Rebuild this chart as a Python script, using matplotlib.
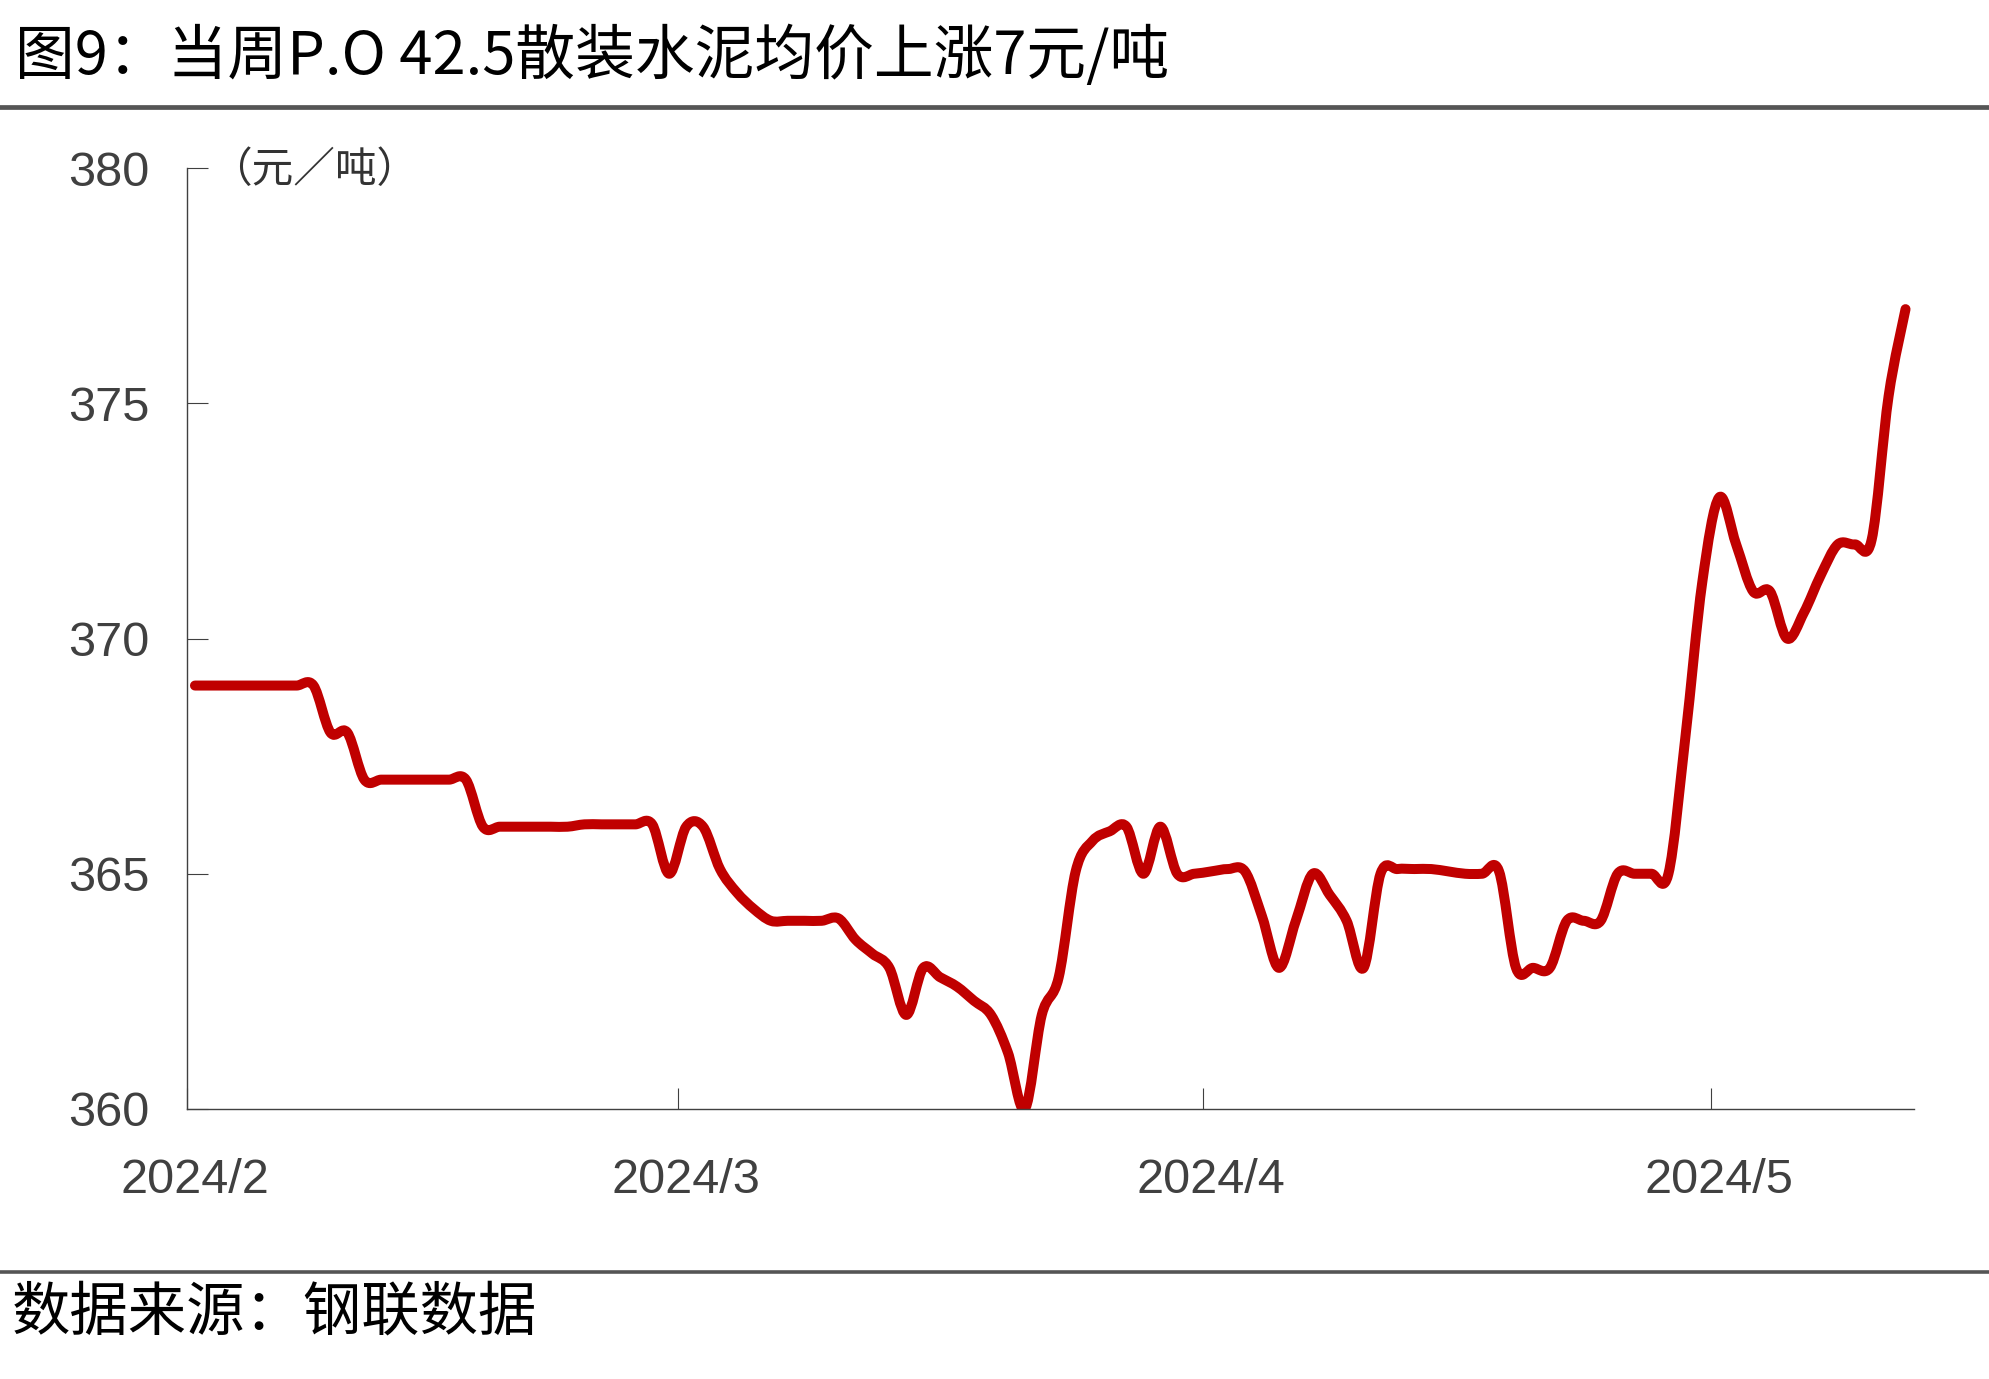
import matplotlib
matplotlib.use('Agg')
import matplotlib.pyplot as plt
import matplotlib.dates as mdates
from matplotlib.lines import Line2D
from matplotlib.path import Path
from matplotlib.patches import PathPatch
import numpy as np
import pandas as pd

# P.O 42.5 bulk cement average price (yuan/t), daily
feb = [369, 369, 369, 369, 369, 369, 369, 369, 368, 368,
       367, 367, 367, 367, 367, 367, 367, 366, 366, 366,
       366, 366, 366, 366.05, 366.05, 366.05, 366.05, 366.05, 365]
mar = [366, 366, 365.1, 364.6, 364.25, 364, 364, 364, 364, 364.05,
       363.6, 363.3, 363, 362, 363, 362.8, 362.6, 362.3, 362, 361.2,
       360, 362, 362.8, 365.05, 365.7, 365.9, 366, 365, 366, 365, 365]
apr = [365.05, 365.1, 365.05, 364.1, 363, 364, 365, 364.55, 364, 363,
       365, 365.1, 365.1, 365.1, 365.05, 365, 365, 365.05, 363, 363,
       363, 364, 364, 364, 365, 365, 365, 365, 367.9, 371.2]
may = [373, 372, 371, 371, 370, 370.55, 371.35, 372, 372, 372.1,
       375.15, 377]

prices = feb + mar + apr + may
days = pd.date_range('2024-02-01', periods=len(prices), freq='D')

month_starts = pd.to_datetime(['2024-02-01', '2024-03-01', '2024-04-01', '2024-05-01'])
month_labels = ['2024/2', '2024/3', '2024/4', '2024/5']
y_ticks = [360, 365, 370, 375, 380]

title = '图9：当周P.O 42.5散装水泥均价上涨7元/吨'
unit = '（元／吨）'
source = '数据来源：钢联数据'

plt.rcParams['font.family'] = ['Liberation Sans', 'Noto Sans CJK SC']
cjk = ['Noto Sans CJK SC', 'DejaVu Sans']

W, H = 1989, 1379
fig = plt.figure(figsize=(W / 100, H / 100), dpi=100)


def fx(px):
    return px / W


def fy(py):
    return 1 - py / H


def smooth_path(x, y):
    # Excel-style smoothed line: cubic bezier through every point
    n = len(x)
    verts = [(x[0], y[0])]
    codes = [Path.MOVETO]
    for i in range(n - 1):
        i0 = max(i - 1, 0)
        i3 = min(i + 2, n - 1)
        c1 = (x[i] + (x[i + 1] - x[i0]) / 6, y[i] + (y[i + 1] - y[i0]) / 6)
        c2 = (x[i + 1] - (x[i3] - x[i]) / 6, y[i + 1] - (y[i3] - y[i]) / 6)
        verts += [c1, c2, (x[i + 1], y[i + 1])]
        codes += [Path.CURVE4] * 3
    return Path(verts, codes)


ax = fig.add_axes([fx(186.5), fy(1109), fx(1914) - fx(186.5), fy(168) - fy(1109)])

half = pd.Timedelta(hours=12)  # points sit in the middle of each day slot
xnum = mdates.date2num(days + half)
line = PathPatch(smooth_path(np.asarray(xnum), np.asarray(prices, dtype=float)),
                 facecolor='none', edgecolor='#C00000', lw=7.2,
                 capstyle='round', joinstyle='round')
ax.add_patch(line)
ax.xaxis_date()

ax.set_xlim(pd.Timestamp('2024-02-01'), pd.Timestamp('2024-05-13'))
ax.set_ylim(360, 380)

for s in ['top', 'right']:
    ax.spines[s].set_visible(False)
for s in ['left', 'bottom']:
    ax.spines[s].set_color('#404040')
    ax.spines[s].set_linewidth(1.0)

ax.set_yticks(y_ticks)
ax.tick_params(axis='y', direction='in', length=15, width=0.8, color='#404040',
               pad=27, labelsize=35, labelcolor='#404040')

ax.set_xticks(month_starts)
ax.set_xticks(month_starts + half, labels=month_labels, minor=True)
ax.tick_params(axis='x', which='major', direction='in', length=15, width=0.8,
               color='#404040', labelbottom=False)
ax.tick_params(axis='x', which='minor', length=0, pad=35, labelsize=35,
               labelcolor='#404040')

fig.text(fx(210), fy(170), unit, fontsize=30, family=cjk, color='#333333',
         ha='left', va='center')

fig.text(fx(15), fy(57), title, fontsize=43, family=cjk, color='black',
         ha='left', va='center')
fig.text(fx(12), fy(1313), source, fontsize=42, family=cjk, color='black',
         ha='left', va='center')

fig.add_artist(Line2D([0, 1], [fy(106.5)] * 2, transform=fig.transFigure,
                      color='#555555', lw=3.4))
fig.add_artist(Line2D([0, 1], [fy(1271.5)] * 2, transform=fig.transFigure,
                      color='#555555', lw=2.6))

fig.savefig('out.png', dpi=100)
